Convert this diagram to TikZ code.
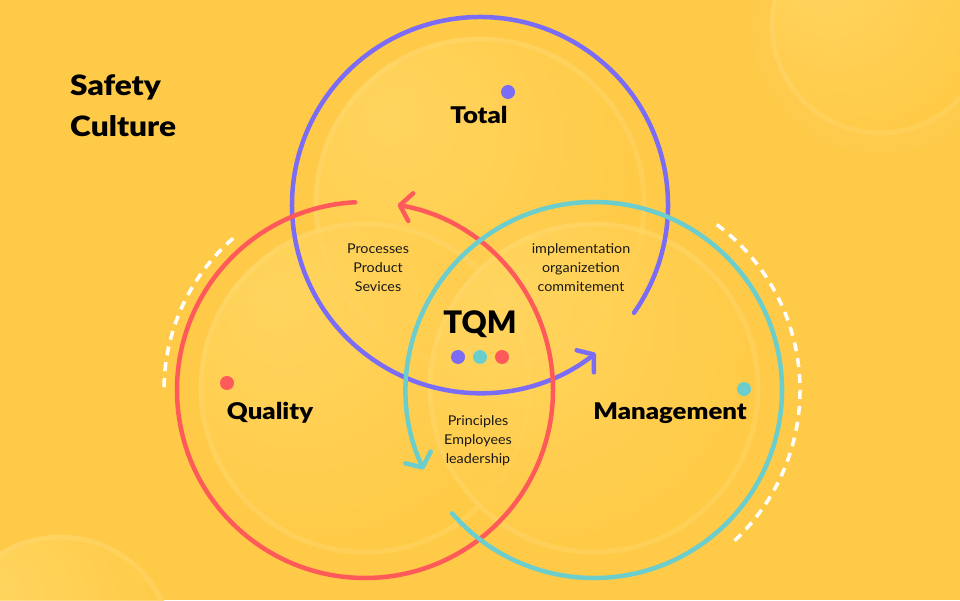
\documentclass[tikz,border=0pt]{standalone}
\usepackage{fontspec}
\setmainfont{Lato}[BoldFont={Lato Black}]
\usetikzlibrary{arrows.meta}
\definecolor{bg}{HTML}{FFCA47}
\definecolor{tqmblue}{HTML}{7B6CF6}
\definecolor{tqmred}{HTML}{FF5A5A}
\definecolor{tqmteal}{HTML}{6CCDCD}
\definecolor{bubA}{HTML}{FFD866}
\definecolor{bubB}{HTML}{FFCD4C}
\definecolor{bubC}{HTML}{FFC126}
\definecolor{rimc}{HTML}{FFDC7A}
\pgfdeclareradialshading{bubbleshade}{\pgfpoint{-14bp}{14bp}}{color(0bp)=(bubA); color(28bp)=(bubB); color(56bp)=(bubC); color(70bp)=(bubC)}
\begin{document}
\begin{tikzpicture}[x=1pt,y=1pt,
  ring/.style={line width=4.5pt, line cap=round},
  tipped/.style={-{Straight Barb[length=11pt,width=28pt,round]}},
  dashring/.style={white, line width=3.5pt, dash pattern=on 9pt off 7pt},
  bubble/.style={shading=bubbleshade, fill opacity=0.78},
  rim/.style={rimc, line width=5pt, opacity=0.35},
  dot/.style={circle, inner sep=0pt, minimum size=14pt},
  big/.style={font=\fontsize{23}{26}\selectfont\bfseries\addfontfeatures{FakeStretch=1.12}, text=black},
  small/.style={font=\fontsize{13.5}{19}\selectfont\addfontfeatures{FakeStretch=1.06}, align=center, text=black!90}]
\fill[bg] (0,0) rectangle (960,600);
\useasboundingbox (0,0) rectangle (960,600);
\coordinate (cb) at (480,395);
\coordinate (cr) at (365,210);
\coordinate (ct) at (594,210);
% background blobs
\fill[white, opacity=0.03] (880,575) circle[radius=128];
\shade[bubble] (880,575) circle[radius=110];
\draw[rim] (880,575) circle[radius=108];
\shade[bubble] (60,-50) circle[radius=115];
\draw[rim] (60,-50) circle[radius=113];
% inner bubbles
\shade[bubble] (480,397) circle[radius=166];
\draw[rim] (480,397) circle[radius=164];
\shade[bubble] (365,212) circle[radius=166];
\draw[rim] (365,212) circle[radius=164];
\shade[bubble] (594,212) circle[radius=166];
\draw[rim] (594,212) circle[radius=164];
% dashed arcs
\draw[dashring] ([shift={(131:201pt)}]cr) arc[start angle=131, end angle=181, radius=201pt];
\draw[dashring] ([shift={(-47:206pt)}]ct) arc[start angle=-47, end angle=54, radius=206pt];
% rings
\draw[ring, tipped, tqmblue] ([shift={(325:188pt)}]cb) arc[start angle=325, end angle=668, radius=188pt];
\draw[ring, tipped, tqmred] ([shift={(93:188pt)}]cr) arc[start angle=93, end angle=440, radius=188pt];
\draw[ring, tipped, tqmteal] ([shift={(221:188pt)}]ct) arc[start angle=221, end angle=565, radius=188pt];
% dots
\node[dot, fill=tqmblue] (dblue) at (508,508) {};
\node[dot, fill=tqmred] (dred) at (227,217) {};
\node[dot, fill=tqmteal] (dteal) at (744,211) {};
\node[dot, fill=tqmblue] (c1) at (458,243) {};
\node[dot, fill=tqmteal] (c2) at (480,243) {};
\node[dot, fill=tqmred] (c3) at (502,243) {};
% texts
\node[font=\fontsize{28}{41}\selectfont\bfseries\addfontfeatures{FakeStretch=1.13}, align=left, anchor=west, inner sep=0pt] (title) at (70,494) {Safety\\Culture};
\node[big] (total) at (479,485) {Total};
\node[big] (quality) at (270,187) {Quality};
\node[big] (mgmt) at (670,187) {Management};
\node[font=\fontsize{31}{36}\selectfont\bfseries] (tqm) at (480,276) {TQM};
\node[small] (t1) at (378,332) {Processes\\Product\\Sevices};
\node[small] (t2) at (581,332) {implementation\\organizetion\\commitement};
\node[small] (t3) at (478,159) {Principles\\Employees\\leadership};
\end{tikzpicture}
\end{document}
